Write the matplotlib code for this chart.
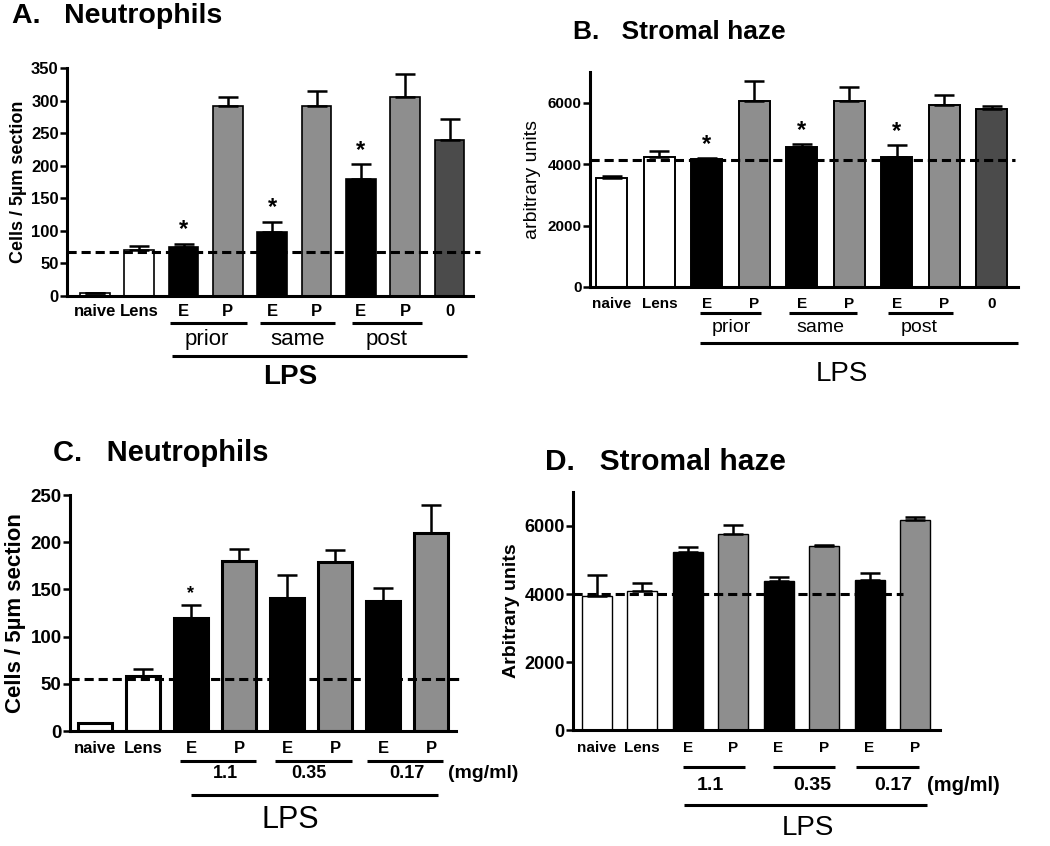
import numpy as np
import matplotlib
matplotlib.use("Agg")
import matplotlib.pyplot as plt
from matplotlib.transforms import blended_transform_factory

plt.rcParams["font.family"] = ["Liberation Sans", "DejaVu Sans"]

W, H = 1050, 846

# --- data -------------------------------------------------------------
labels_ab = ["naive", "Lens", "E", "P", "E", "P", "E", "P", "0"]
groups_ab = ["prior", "same", "post"]

neut_a = [4, 70, 75, 292, 99, 292, 179, 306, 239]
neut_a_err = [1, 6, 5, 13, 15, 22, 23, 35, 32]
neut_a_base = 68
neut_a_stars = [2, 4, 6]

haze_b = [3554, 4239, 4174, 6054, 4565, 6054, 4228, 5913, 5783]
haze_b_err = [55, 185, 15, 650, 75, 460, 380, 325, 110]
haze_b_base = 4150
haze_b_stars = [2, 4, 6]

labels_cd = ["naive", "Lens", "E", "P", "E", "P", "E", "P"]
doses_cd = ["1.1", "0.35", "0.17"]

neut_c = [8, 58, 120, 180, 141, 178.5, 137.5, 209.5]
neut_c_err = [0, 8, 14, 13, 24, 13, 13.5, 30]
neut_c_base = 55
neut_c_stars = [2]

haze_d = [3954, 4082, 5233, 5774, 4397, 5410, 4426, 6167]
haze_d_err = [600, 246, 157, 256, 108, 29, 197, 99]
haze_d_base = 4013

WHITE, BLACK, GRAY, DARK = "white", "black", "#8e8e8e", "#4b4b4b"
colors_ab = [WHITE, WHITE, BLACK, GRAY, BLACK, GRAY, BLACK, GRAY, DARK]
colors_cd = [WHITE, WHITE, BLACK, GRAY, BLACK, GRAY, BLACK, GRAY]


def fy(py):
    return 1 - py / H


def make_ax(fig, l, t, r, b):
    return fig.add_axes([l / W, 1 - b / H, (r - l) / W, (b - t) / H])


def bar_panel(ax, vals, errs, colors, width, edge_lw, xlim, ylim, yticks,
              base, base_end, stars, star_size, tick_size):
    x = np.arange(len(vals))
    ax.bar(x, vals, width=width, color=colors, edgecolor="black",
           linewidth=edge_lw, zorder=2)
    ax.errorbar(x, vals, yerr=[np.zeros(len(vals)), errs], fmt="none",
                ecolor="black", elinewidth=1.8, capsize=7, capthick=1.8,
                zorder=3)
    ax.plot([xlim[0], base_end], [base, base], color="black", ls=(0, (3, 1.6)),
            lw=2.2, zorder=4, clip_on=False)
    for i in stars:
        ax.annotate("*", (i, vals[i] + errs[i]), xytext=(0, 2),
                    textcoords="offset points", ha="center", va="bottom",
                    fontsize=star_size, fontweight="bold")
    ax.set_xlim(*xlim)
    ax.set_ylim(*ylim)
    ax.set_yticks(yticks)
    ax.set_xticks([])
    for s in ("top", "right"):
        ax.spines[s].set_visible(False)
    for s in ("left", "bottom"):
        ax.spines[s].set_linewidth(2.2)
    ax.tick_params(axis="y", width=1.8, length=5, labelsize=tick_size, pad=1)
    for t in ax.get_yticklabels():
        t.set_fontweight("bold")


def under(fig, ax, x0, x1, py, lw=2.2):
    tr = blended_transform_factory(ax.transData, fig.transFigure)
    ax.plot([x0, x1], [fy(py), fy(py)], color="black", lw=lw,
            transform=tr, clip_on=False, solid_capstyle="butt")


def txt(fig, ax, x, py, s, size, weight="normal", ha="center"):
    tr = blended_transform_factory(ax.transData, fig.transFigure)
    ax.text(x, fy(py), s, transform=tr, ha=ha, va="center", fontsize=size,
            fontweight=weight)


fig = plt.figure(figsize=(W / 100, H / 100), dpi=100)

# --- A ----------------------------------------------------------------
ax = make_ax(fig, 67, 68, 473, 296)
bar_panel(ax, neut_a, neut_a_err, colors_ab, 0.67, 1.2, (-0.63, 8.53),
          (0, 350), range(0, 351, 50), neut_a_base, 8.69, neut_a_stars, 17, 12)
ax.set_ylabel("Cells / 5µm section", fontsize=13, fontweight="bold", labelpad=3)
fig.text(12 / W, fy(16), "A.   Neutrophils", fontsize=20.5, fontweight="bold",
         va="center")
for i, s in enumerate(labels_ab):
    txt(fig, ax, i, 312, s, 12, "bold")
for (x0, x1), xc, s in zip([(1.69, 3.43), (3.72, 5.42), (5.80, 7.38)],
                           [2.53, 4.58, 6.59], groups_ab):
    under(fig, ax, x0, x1, 323)
    txt(fig, ax, xc, 339, s, 16)
under(fig, ax, 1.74, 8.40, 356)
txt(fig, ax, 4.40, 377, "LPS", 20, "bold")

# --- B ----------------------------------------------------------------
ax = make_ax(fig, 590, 72, 1018, 287)
bar_panel(ax, haze_b, haze_b_err, colors_ab, 0.65, 1.4, (-0.46, 8.55),
          (0, 7000), range(0, 6001, 2000), haze_b_base, 8.48, haze_b_stars,
          17, 11)
ax.set_ylabel("arbitrary units", fontsize=14, labelpad=5)
fig.text(573 / W, fy(32), "B.   Stromal haze", fontsize=19, fontweight="bold",
         va="center")
for i, s in enumerate(labels_ab):
    txt(fig, ax, i, 304, s, 11, "bold")
for (x0, x1), xc, s in zip([(1.85, 3.14), (3.73, 5.16), (5.81, 7.18)],
                           [2.51, 4.38, 6.46], groups_ab):
    under(fig, ax, x0, x1, 313)
    txt(fig, ax, xc, 328, s, 14)
under(fig, ax, 1.85, 8.55, 343)
txt(fig, ax, 4.84, 374, "LPS", 20)

# --- C ----------------------------------------------------------------
ax = make_ax(fig, 70, 495, 456, 731)
bar_panel(ax, neut_c, neut_c_err, colors_cd, 0.69, 2.2, (-0.52, 7.52),
          (0, 250), range(0, 251, 50), neut_c_base, 7.6, neut_c_stars, 13, 13.5)
ax.set_ylabel("Cells / 5µm section", fontsize=16, fontweight="bold", labelpad=3)
fig.text(53 / W, fy(453), "C.   Neutrophils", fontsize=21, fontweight="bold",
         va="center")
for i, s in enumerate(labels_cd):
    txt(fig, ax, i, 748, s, 12, "bold")
for (x0, x1), xc, s in zip([(1.77, 3.35), (3.75, 5.35), (5.67, 7.25)],
                           [2.71, 4.46, 6.5], doses_cd):
    under(fig, ax, x0, x1, 761)
    txt(fig, ax, xc, 773, s, 13, "bold")
txt(fig, ax, 7.35, 773, "(mg/ml)", 14, "bold", ha="left")
under(fig, ax, 2.0, 7.15, 795)
txt(fig, ax, 4.06, 820, "LPS", 22)

# --- D ----------------------------------------------------------------
ax = make_ax(fig, 573, 492, 940, 730)
bar_panel(ax, haze_d, haze_d_err, colors_cd, 0.66, 1.0, (-0.52, 7.55),
          (0, 7000), range(0, 6001, 2000), haze_d_base, 6.74, [], 13, 13)
ax.set_ylabel("Arbitrary units", fontsize=14, fontweight="bold", labelpad=3)
fig.text(545 / W, fy(462), "D.   Stromal haze", fontsize=21.5,
         fontweight="bold", va="center")
for i, s in enumerate(labels_cd):
    txt(fig, ax, i, 748, s, 11, "bold")
for (x0, x1), xc, s in zip([(1.90, 3.26), (3.88, 5.24), (5.70, 7.09)],
                           [2.49, 4.73, 6.52], doses_cd):
    under(fig, ax, x0, x1, 767)
    txt(fig, ax, xc, 785, s, 14, "bold")
txt(fig, ax, 7.26, 785, "(mg/ml)", 14.5, "bold", ha="left")
under(fig, ax, 1.92, 7.26, 805)
txt(fig, ax, 4.65, 828, "LPS", 20)

fig.savefig("out.png", dpi=100)
